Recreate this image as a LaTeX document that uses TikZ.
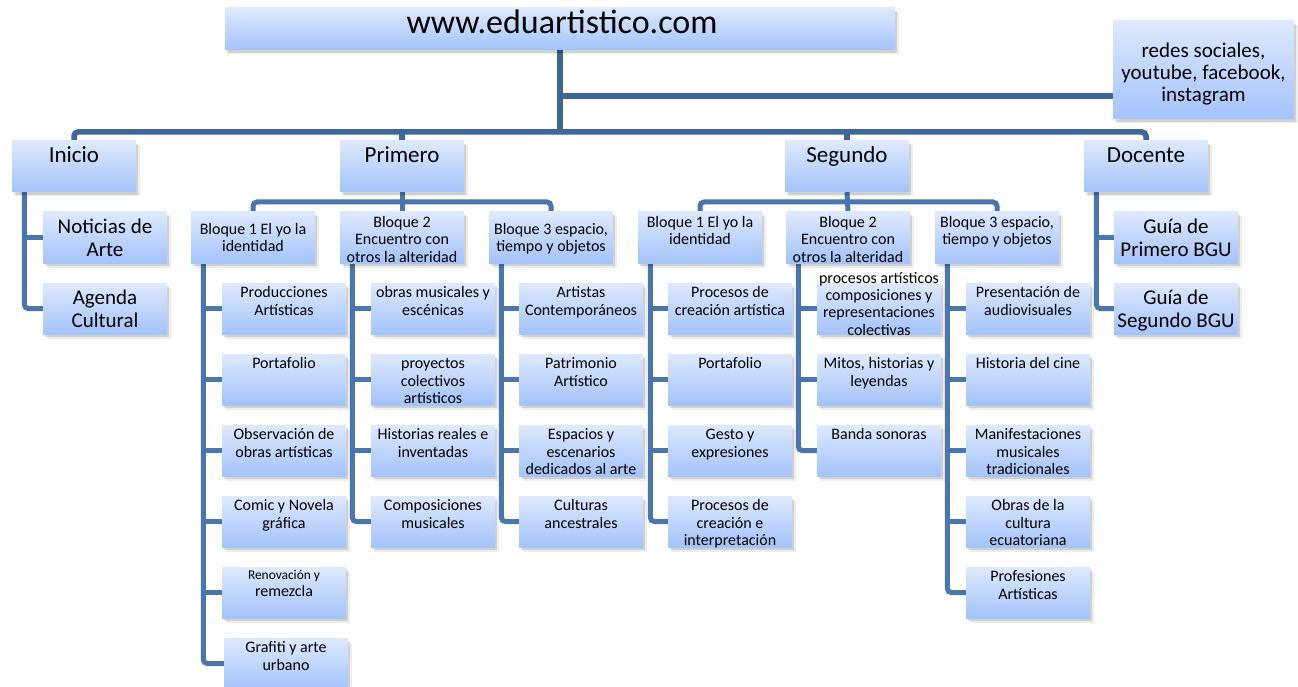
\documentclass[tikz,border=0pt]{standalone}
\usepackage{fontspec}
\setmainfont{Carlito}
\usetikzlibrary{shadows,calc}
\definecolor{boxtop}{HTML}{DEE9FD}
\definecolor{boxbot}{HTML}{A3C3FA}
\definecolor{linemain}{HTML}{3E6698}
\definecolor{linebr}{HTML}{4A76AD}
\pgfdeclarelayer{bg}
\pgfsetlayers{bg,main}
\tikzset{
 bx/.style={rectangle, inner sep=0pt, draw=none, top color=boxtop, bottom color=boxbot,
   drop shadow={shadow xshift=3.5pt, shadow yshift=-4.5pt, opacity=0.07, fill=black},
   drop shadow={shadow xshift=2pt, shadow yshift=-3pt, opacity=0.12, fill=black}},
 txt/.style={inner sep=0pt, align=center, anchor=north},
 conn/.style={draw=linebr, line width=5pt},
 mainconn/.style={draw=linemain, line width=5.5pt},
}
% text node: name, x, first baseline, size, skip, text
\newcommand\tx[6]{\node[txt, font=\fontsize{#4}{#5}\selectfont] (#1) at (#2,{#3-0.7*#5}) {\strut #6};}
% box: name, x1, y1, x2, y2
\newcommand\bxat[5]{\node[bx, minimum width={(#4-#2)*1pt}, minimum height={(#5-#3)*1pt}] (#1) at ({(#2+#4)/2},{(#3+#5)/2}) {};}
\newcommand\leafbox[3]{\bxat{#1}{#2}{#3}{#2+124}{#3+51}}
\newcommand\leaf[4]{\leafbox{#1}{#2}{#3}\tx{#1-t}{#2+62}{#3+14.5}{16}{17.5}{#4}}
\newcommand\bigleaf[4]{\leafbox{#1}{#2}{#3}\tx{#1-t}{#2+62}{#3+21}{21}{23}{#4}}
\newcommand\bloque[4]{\leafbox{#1}{#2}{212}\tx{#1-t}{#2+62}{#3}{16}{17.5}{#4}}
\newcommand\lvl[3]{\leafbox{#1}{#2}{141}\node[anchor=base, inner sep=0pt, font=\fontsize{23}{27}\selectfont] (#1-t) at (#2+62,163) {#3};}
\newcommand\branch[3]{\coordinate (#1-b) at ([xshift=12.5pt]#1.south west);
 \foreach \q in {#2}{\draw[conn] (#1-b |- \q.west) -- (\q.west);}
 \draw[conn, rounded corners=4pt] (#1-b) |- (#3.west);}

\begin{document}
\begin{tikzpicture}[x=1pt,y=-1pt]
\useasboundingbox (0,0) rectangle (1298,687);

% top
\bxat{title}{225}{8}{895}{50}
\node[anchor=base, inner sep=0pt, font=\fontsize{34}{40}\selectfont] (title-t) at (562,34) {www.eduartistico.com};
\bxat{redes}{1113}{21}{1294}{119}
\tx{redes-t}{1203.5}{57}{21}{22}{redes sociales,\\youtube, facebook,\\instagram}

% level 1
\lvl{inicio}{12}{Inicio}
\lvl{primero}{340}{Primero}
\lvl{segundo}{785}{Segundo}
\lvl{docente}{1084}{Docente}

% inicio / docente leaves
\bigleaf{in1}{43}{212}{Noticias de\\Arte}
\bigleaf{in2}{43}{283}{Agenda\\Cultural}
\bigleaf{do1}{1114}{212}{Guía de\\Primero BGU}
\bigleaf{do2}{1114}{283}{Guía de\\Segundo BGU}

% bloques
\bloque{pb1}{191}{234}{Bloque 1 El yo la\\identidad}
\bloque{pb2}{340}{227}{Bloque 2\\Encuentro con\\otros la alteridad}
\bloque{pb3}{489}{234}{Bloque 3 espacio,\\tiempo y objetos}
\bloque{sb1}{638}{227}{Bloque 1 El yo la\\identidad}
\bloque{sb2}{786}{227}{Bloque 2\\Encuentro con\\otros la alteridad}
\bloque{sb3}{935}{227}{Bloque 3 espacio,\\tiempo y objetos}

% primero bloque 1
\leaf{pb1a}{222}{283}{Producciones\\Artísticas}
\leaf{pb1b}{222}{354}{Portafolio}
\leaf{pb1c}{222}{425}{Observación de\\obras artísticas}
\leaf{pb1d}{222}{496}{Comic y Novela\\gráfica}
\leafbox{pb1e}{222}{567}
\node[inner sep=0pt, anchor=base, font=\fontsize{13.4}{15}\selectfont] (pb1e-t1) at (284,579) {Renovación y};
\node[inner sep=0pt, anchor=base, font=\fontsize{16}{17.5}\selectfont] (pb1e-t2) at (284,596) {remezcla};
\leaf{pb1f}{224}{638}{Grafiti y arte\\urbano}

% primero bloque 2
\leaf{pb2a}{371}{283}{obras musicales y\\escénicas}
\leaf{pb2b}{371}{354}{proyectos\\colectivos\\artísticos}
\leaf{pb2c}{371}{425}{Historias reales e\\inventadas}
\leaf{pb2d}{371}{496}{Composiciones\\musicales}

% primero bloque 3
\leaf{pb3a}{519}{283}{Artistas\\Contemporáneos}
\leaf{pb3b}{519}{354}{Patrimonio\\Artístico}
\leaf{pb3c}{519}{425}{Espacios y\\escenarios\\dedicados al arte}
\leaf{pb3d}{519}{496}{Culturas\\ancestrales}

% segundo bloque 1
\leaf{sb1a}{668}{283}{Procesos de\\creación artística}
\leaf{sb1b}{668}{354}{Portafolio}
\leaf{sb1c}{668}{425}{Gesto y\\expresiones}
\leaf{sb1d}{668}{496}{Procesos de\\creación e\\interpretación}

% segundo bloque 2
\leafbox{sb2a}{817}{283}
\tx{sb2a-t}{879}{283}{16}{17.3}{procesos artísticos\\composiciones y\\representaciones\\colectivas}
\leaf{sb2b}{817}{354}{Mitos, historias y\\leyendas}
\leaf{sb2c}{817}{425}{Banda sonoras}

% segundo bloque 3
\leaf{sb3a}{966}{283}{Presentación de\\audiovisuales}
\leaf{sb3b}{966}{354}{Historia del cine}
\leaf{sb3c}{966}{425}{Manifestaciones\\musicales\\tradicionales}
\leaf{sb3d}{966}{496}{Obras de la\\cultura\\ecuatoriana}
\leaf{sb3e}{966}{567}{Profesiones\\Artísticas}

\begin{pgfonlayer}{bg}
 \coordinate (bar) at (560,132);
 \coordinate (rj) at (560,96);
 \draw[mainconn] (title.south) -- (bar);
 \draw[mainconn] (rj) -- (rj -| redes.west);
 \draw[mainconn, rounded corners=4pt] (inicio.north) |- (bar) -| (docente.north);
 \draw[mainconn] (primero.north |- bar) -- (primero.north);
 \draw[mainconn] (segundo.north |- bar) -- (segundo.north);

 \coordinate (pbar) at (402,202);
 \draw[conn, rounded corners=4pt] (pb1.north) |- (pbar) -| (pb3.north);
 \draw[conn] (primero.south) -- (pb2.north);
 \coordinate (sbar) at (848,202);
 \draw[conn, rounded corners=4pt] (sb1.north) |- (sbar) -| (sb3.north);
 \draw[conn] (segundo.south) -- (sb2.north);

 \branch{inicio}{in1}{in2}
 \branch{docente}{do1}{do2}
 \branch{pb1}{pb1a,pb1b,pb1c,pb1d,pb1e}{pb1f}
 \branch{pb2}{pb2a,pb2b,pb2c}{pb2d}
 \branch{pb3}{pb3a,pb3b,pb3c}{pb3d}
 \branch{sb1}{sb1a,sb1b,sb1c}{sb1d}
 \branch{sb2}{sb2a,sb2b}{sb2c}
 \branch{sb3}{sb3a,sb3b,sb3c,sb3d}{sb3e}
\end{pgfonlayer}
\end{tikzpicture}
\end{document}
